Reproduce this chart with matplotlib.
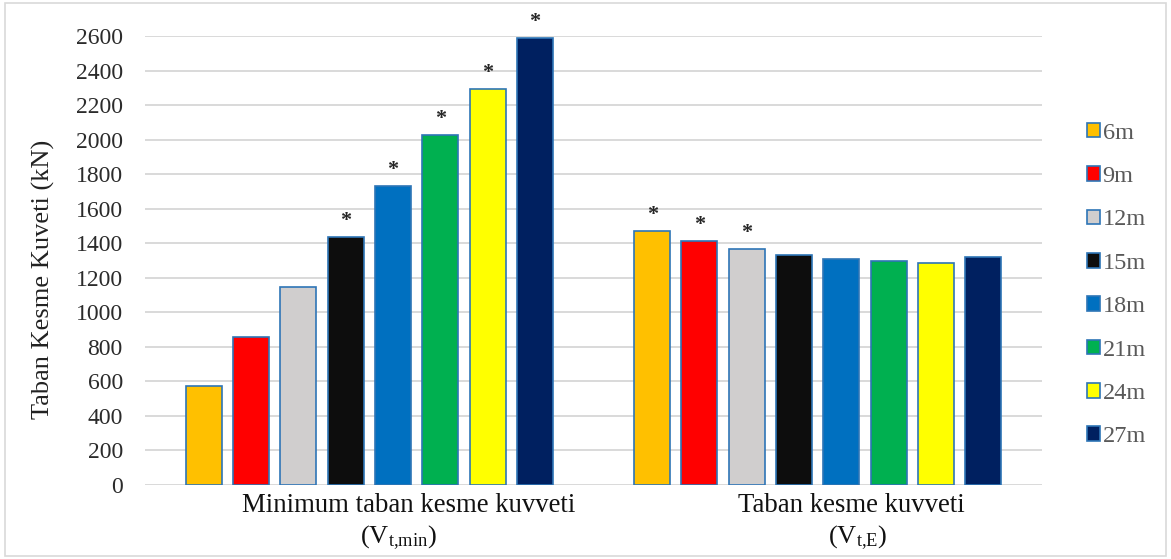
import matplotlib
matplotlib.use("Agg")
import matplotlib.pyplot as plt
import numpy as np
from matplotlib.patches import Rectangle

plt.rcParams['font.family'] = ['Liberation Serif', 'DejaVu Serif']
plt.rcParams['mathtext.fontset'] = 'custom'
plt.rcParams['mathtext.rm'] = 'Liberation Serif'
plt.rcParams['mathtext.it'] = 'Liberation Serif:italic'

# Building heights (series) and the two shear-force groups (categories)
heights = ['6m', '9m', '12m', '15m', '18m', '21m', '24m', '27m']
group_line1 = ['Minimum taban kesme kuvveti', 'Taban kesme kuvveti']
group_line2 = [r'(V$_{\mathrm{t{,}min}}$)', r'(V$_{\mathrm{t{,}E}}$)']

vt_min = [575, 855, 1145, 1435, 1730, 2025, 2295, 2590]
vt_e = [1470, 1415, 1365, 1330, 1310, 1295, 1285, 1320]

# Marked (*) values
star_min = [False, False, False, True, True, True, True, True]
star_e = [True, True, True, False, False, False, False, False]

colors = ['#FFC000', '#FF0000', '#D0CECE', '#0D0D0D',
          '#0070C0', '#00B050', '#FFFF00', '#002060']
edge = '#2E75B6'

y_ticks = list(range(0, 2601, 200))

W, H = 1171, 559
fig = plt.figure(figsize=(W / 100, H / 100), dpi=100)
ax = fig.add_axes([145 / W, 1 - 485 / H, (1042 - 145) / W, (485 - 36) / H])

x = np.arange(len(group_line1))
pitch = 0.1055
bw = 0.0803

for i, h in enumerate(heights):
    xs = x + (i - 3.5) * pitch
    vals = [vt_min[i], vt_e[i]]
    ax.bar(xs, vals, width=bw, color=colors[i], edgecolor=edge,
           linewidth=1.2, label=h, zorder=3)
    for xx, v, s in zip(xs, vals, [star_min[i], star_e[i]]):
        if s:
            ax.annotate('*', xy=(xx, v), xytext=(0, 6), textcoords='offset pixels',
                        ha='center', va='bottom', fontsize=16, fontweight='bold',
                        color='#262626', annotation_clip=False, zorder=4)

ax.set_xlim(-0.5, 1.5)
ax.set_ylim(0, 2600)
ax.set_yticks(y_ticks)
ax.set_xticks([])
ax.yaxis.grid(True, color='#D9D9D9', linewidth=1.4, zorder=0)
ax.set_axisbelow(True)
for sp in ax.spines.values():
    sp.set_visible(False)
ax.tick_params(axis='y', length=0, pad=16, labelsize=17, labelcolor='#2b2b2b')

ax.set_ylabel('Taban Kesme Kuveti (kN)', fontsize=19, color='#222222')
ax.yaxis.set_label_coords(-0.100, 0.457)

# horizontal placement of the two label lines under each group
line1_shift = [0.087, 0.074]
line2_shift = [0.065, 0.090]
for i in range(len(group_line1)):
    ax.annotate(group_line1[i], xy=(x[i] + line1_shift[i], 0),
                xycoords=('data', 'axes fraction'), xytext=(0, -27),
                textcoords='offset pixels', ha='center', va='baseline',
                fontsize=19.3, color='#111111', annotation_clip=False)
    ax.annotate(group_line2[i], xy=(x[i] + line2_shift[i], 0),
                xycoords=('data', 'axes fraction'), xytext=(0, -58),
                textcoords='offset pixels', ha='center', va='baseline',
                fontsize=19, color='#111111', annotation_clip=False)

leg = fig.legend(loc='upper left', bbox_to_anchor=(1077 / W, 1 - 113 / H),
                 frameon=False, fontsize=17.5, handlelength=0.55, handleheight=0.55,
                 handletextpad=0.1, labelspacing=0.92, borderaxespad=0)
for t in leg.get_texts():
    t.set_color('#595959')

fig.add_artist(Rectangle((5 / W, 3 / H), (1166 - 5) / W, (556 - 3) / H,
                         transform=fig.transFigure, fill=False,
                         edgecolor='#D9D9D9', linewidth=1.2))

fig.savefig('out.png', dpi=100)
